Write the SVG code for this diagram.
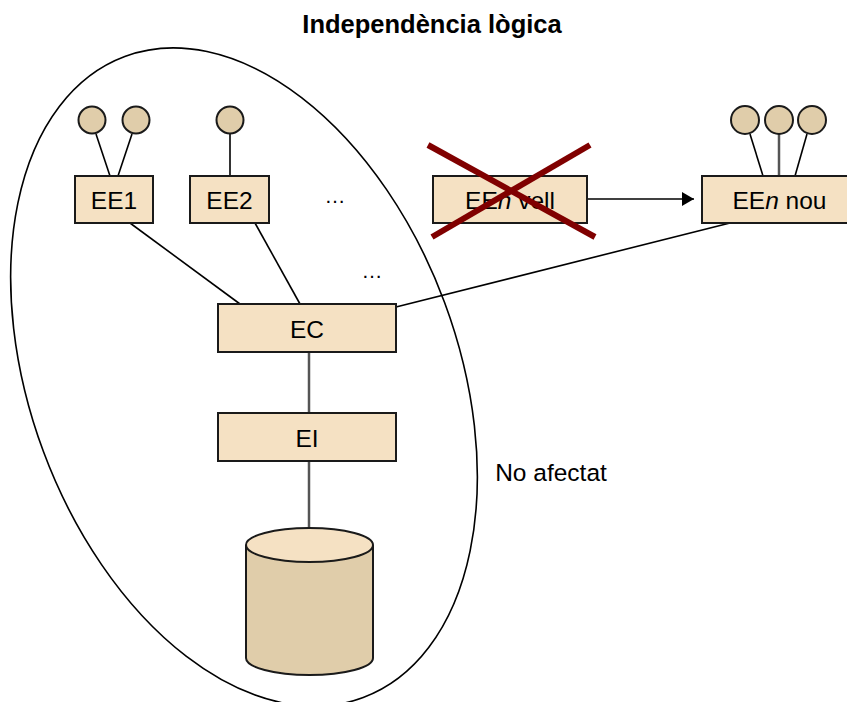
<svg xmlns="http://www.w3.org/2000/svg" width="847" height="702" viewBox="0 0 847 702">
<defs>
<style>
.box{fill:#F5E1C3;stroke:#1a1a1a;stroke-width:2}
.cir{fill:#E0CDAA;stroke:#1a1a1a;stroke-width:2}
.lbl{font-family:"Liberation Sans",Arial,sans-serif;font-size:24.5px;fill:#000;text-anchor:middle}
.ln{stroke:#000;stroke-width:1.6;fill:none}
.gl{stroke:#555;stroke-width:2.5;fill:none}
.x{stroke:#800000;stroke-width:6;stroke-linecap:butt}
</style>
<marker id="ah" markerWidth="12" markerHeight="14" refX="12" refY="7" orient="auto" markerUnits="userSpaceOnUse">
<path d="M0,0 L12,7 L0,14 Z" fill="#000"/>
</marker>
</defs>
<rect width="847" height="702" fill="#fff"/>
<text x="432" y="33" style="font-family:'Liberation Sans',Arial,sans-serif;font-size:25.5px;font-weight:bold;text-anchor:middle">Independència lògica</text>

<g id="scope">
<ellipse cx="244" cy="377" rx="214" ry="342" transform="rotate(-20.4 244 377)" fill="none" stroke="#000" stroke-width="1.6"/>
<text class="lbl" x="551" y="481">No afectat</text>
</g>

<g id="connectors">
<line class="ln" x1="96" y1="134" x2="110" y2="176"/>
<line class="ln" x1="132" y1="134" x2="118" y2="176"/>
<line class="ln" x1="230" y1="134" x2="230" y2="176"/>
<line class="ln" x1="750" y1="134" x2="763" y2="176"/>
<line class="gl" x1="779" y1="134" x2="779" y2="176"/>
<line class="ln" x1="807" y1="134" x2="795" y2="176"/>
<line class="ln" x1="130" y1="223" x2="240" y2="304"/>
<line class="ln" x1="255" y1="223" x2="300" y2="304"/>
<line class="ln" x1="396" y1="307" x2="730" y2="223"/>
<line class="ln" x1="587" y1="199" x2="694" y2="199" marker-end="url(#ah)"/>
<line class="gl" x1="309" y1="352" x2="309" y2="413"/>
<line class="gl" x1="309" y1="461" x2="309" y2="528"/>
</g>

<g id="ee1">
<circle class="cir" cx="92" cy="120" r="13.5"/>
<circle class="cir" cx="136" cy="120" r="13.5"/>
<rect class="box" x="75" y="176" width="78" height="47"/>
<text class="lbl" x="114" y="209">EE1</text>
</g>

<g id="ee2">
<circle class="cir" cx="230" cy="120" r="13.5"/>
<rect class="box" x="190" y="176" width="79" height="47"/>
<text class="lbl" x="229.5" y="209">EE2</text>
</g>

<text class="lbl" x="335" y="203" style="font-size:21px">…</text>
<text class="lbl" x="372" y="278" style="font-size:21px">…</text>

<g id="eenvell">
<rect class="box" x="433" y="176" width="154" height="47"/>
<text class="lbl" x="510" y="209">EE<tspan font-style="italic">n</tspan> vell</text>
<line class="x" x1="428" y1="145" x2="595" y2="237"/>
<line class="x" x1="590" y1="145" x2="432" y2="237"/>
</g>

<g id="eennou">
<circle class="cir" cx="745" cy="120" r="14"/>
<circle class="cir" cx="779" cy="120" r="14"/>
<circle class="cir" cx="812" cy="120" r="14"/>
<rect class="box" x="702" y="176" width="155" height="47"/>
<text class="lbl" x="779.5" y="209">EE<tspan font-style="italic">n</tspan> nou</text>
</g>

<g id="ec">
<rect class="box" x="218" y="304" width="178" height="48"/>
<text class="lbl" x="307" y="338">EC</text>
</g>

<g id="ei">
<rect class="box" x="218" y="413" width="178" height="48"/>
<text class="lbl" x="307" y="447">EI</text>
</g>

<g id="db">
<path d="M246,545 L246,658 A63.5,17 0 0 0 373,658 L373,545" fill="#E0CDAA" stroke="#1a1a1a" stroke-width="2"/>
<ellipse cx="309.5" cy="545" rx="63.5" ry="17" fill="#F5E1C3" stroke="#1a1a1a" stroke-width="2"/>
</g>
</svg>
